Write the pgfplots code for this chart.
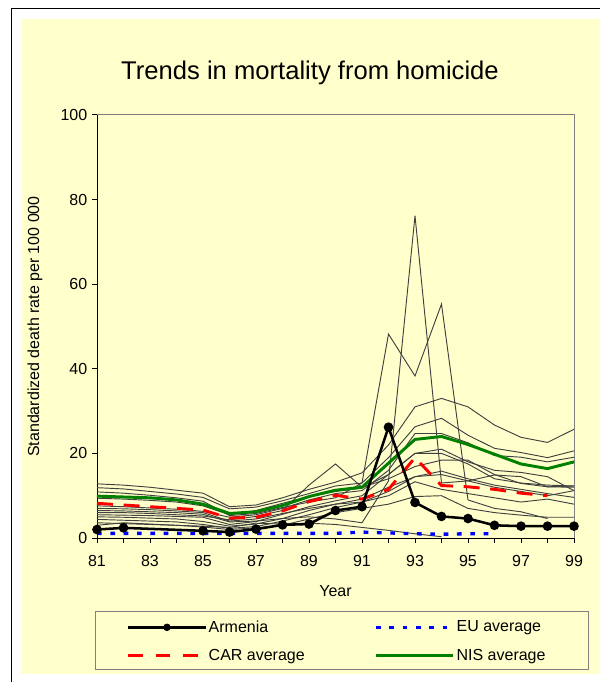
\documentclass[border=0pt]{standalone}
\usepackage{pgfplots}
\pgfplotsset{compat=1.18}
\usepackage{fontspec}
\setmainfont{Liberation Sans}
\definecolor{bgyellow}{RGB}{255,255,204}
\definecolor{nisgreen}{RGB}{0,128,0}
\definecolor{thinline}{RGB}{64,64,64}
\begin{document}
\begin{tikzpicture}
\useasboundingbox (0,0) rectangle (450pt,511.5pt);
\fill[white] (0,0) rectangle (450pt,511.5pt);
\draw[line width=1.1pt] (8.6pt,0) -- (8.6pt,505.1pt) -- (450pt,505.1pt);
\fill[bgyellow] (15.75pt,6pt) rectangle (450pt,497.25pt);
\draw[gray, line width=0.75pt] (71.25pt,9pt) rectangle (441pt,52.5pt);
\begin{axis}[
  at={(72.75pt,108pt)}, anchor=south west,
  scale only axis, width=357.75pt, height=317.25pt,
  xmin=81, xmax=99, ymin=0, ymax=100,
  clip=false,
  axis x line*=bottom, axis y line*=left,
  axis line style={black, line width=0.75pt},
  axis background/.style={draw=gray, line width=0.75pt},
  xtick={81,...,99},
  xticklabels={81,,83,,85,,87,,89,,91,,93,,95,,97,,99},
  ytick={0,20,...,100},
  tick align=outside,
  major tick length=3.75pt,
  tick style={black, line width=0.75pt},
  ticklabel style={font=\fontsize{12}{14}\selectfont},
  xticklabel style={yshift=-6pt},
  /pgf/number format/assume math mode=true,
  title={Trends in mortality from homicide},
  title style={font=\fontsize{19.2}{22}\selectfont, at={(axis description cs:0.4465,1.081)}, anchor=center},
  xlabel={Year},
  xlabel style={font=\fontsize{12}{14}\selectfont, at={(axis description cs:0.5,-0.125)}, anchor=center},
  ylabel={Standardized death rate per 100 000},
  ylabel style={font=\fontsize{12}{14}\selectfont, at={(axis description cs:-0.13,0.5)}, anchor=center},
  legend columns=2,
  legend cell align=left,
  legend style={at={(axis description cs:0.062,-0.2447)}, anchor=west, draw=none, fill=none,
    font=\fontsize{12}{14}\selectfont, row sep=9pt, inner sep=0pt,
    nodes={inner sep=1.2pt},
    /tikz/every even column/.append style={column sep=51pt}},
  legend image code/.code={\draw[mark repeat=2,mark phase=2,#1] plot coordinates {(0pt,0pt) (29pt,0pt) (58pt,0pt)};},
]
% other countries (thin lines)
\addplot[thinline, line width=0.7pt, forget plot] coordinates {(81,12.8)(82,12.5)(83,12.0)(84,11.3)(85,10.6)(86,7.4)(87,7.8)(88,9.5)(89,11.5)(90,13.2)(91,15.4)(92,22)(93,31)(94,33)(95,31)(96,26.7)(97,23.8)(98,22.6)(99,25.7)};
\addplot[thinline, line width=0.7pt, forget plot] coordinates {(81,11.9)(82,11.6)(83,11.0)(84,10.4)(85,9.6)(86,6.9)(87,7.3)(88,8.8)(89,10.5)(90,12.3)(91,13.0)(92,19)(93,26.3)(94,28.3)(95,24.3)(96,21.2)(97,20.2)(98,19.0)(99,20.6)};
\addplot[thinline, line width=0.7pt, forget plot] coordinates {(81,10.9)(82,10.6)(83,10.1)(84,9.5)(85,8.7)(86,5.3)(87,5.8)(88,7.2)(89,8.5)(90,9.5)(91,13)(92,48.2)(93,38.3)(94,55.3)(95,9.0)(96,7.0)(97,6.2)(98,4.6)};
\addplot[thinline, line width=0.7pt, forget plot] coordinates {(81,6.5)(82,6.4)(83,6.2)(84,6.0)(85,5.6)(86,3.8)(87,4.0)(88,4.6)(89,5.0)(90,4.5)(91,3.6)(92,13.5)(93,76.2)(94,13)(95,13.5)(96,14.9)(97,14.5)(98,12.1)(99,12.3)};
\addplot[thinline, line width=0.7pt, forget plot] coordinates {(81,6.0)(82,6.0)(83,5.8)(84,5.5)(85,5.2)(86,4.3)(87,5.1)(88,6.5)(89,12.5)(90,17.5)(91,12.0)(92,14)(93,16.9)(94,18.4)(95,18.4)(96,15)(97,12.9)(98,12.1)(99,12.0)};
\addplot[thinline, line width=0.7pt, forget plot] coordinates {(81,5.5)(82,5.4)(83,5.3)(84,5.1)(85,4.9)(86,3.2)(87,3.9)(88,5.6)(89,7.4)(90,8.8)(91,10)(92,15)(93,20)(94,21)(95,18)(96,16)(97,15.5)(98,14.5)(99,11.2)};
\addplot[thinline, line width=0.7pt, forget plot] coordinates {(81,5.0)(82,4.9)(83,4.7)(84,4.5)(85,3.9)(86,2.8)(87,3.3)(88,4.6)(89,6.5)(90,8.0)(91,9.2)(92,12)(93,14.5)(94,15.8)(95,14.0)(96,12.5)(97,11.5)(98,10.5)(99,9.6)};
\addplot[thinline, line width=0.7pt, forget plot] coordinates {(81,4.4)(82,4.2)(83,4.0)(84,3.8)(85,3.2)(86,2.3)(87,2.7)(88,4.0)(89,5.5)(90,7.2)(91,8.5)(92,10)(93,13.3)(94,11.5)(95,10.5)(96,9.5)(97,8.5)(98,9.2)(99,8.0)};
\addplot[thinline, line width=0.7pt, forget plot] coordinates {(81,3.6)(82,3.4)(83,3.2)(84,3.0)(85,2.8)(86,2.5)(87,3.5)(88,3.3)(89,3.5)(90,3.2)(91,2.5)(92,1.8)(93,1.0)(94,0.3)};
\addplot[thinline, line width=0.7pt, forget plot] coordinates {(81,3.0)(82,3.6)(83,3.3)(84,3.0)(85,2.6)(86,2.0)(87,2.4)(88,3.0)(89,4.5)(90,6.0)(91,7.0)(92,8)(93,9.8)(94,10)(95,7.0)(96,6.0)(97,5.4)(98,4.9)(99,4.9)};
\addplot[thinline, line width=0.7pt, forget plot] coordinates {(81,7.6)(82,7.4)(83,7.1)(84,6.8)(85,6.3)(86,4.9)(87,5.5)(88,7.0)(89,9.0)(90,10.5)(91,11.2)(92,16)(93,24.7)(94,24.7)(95,22.5)(96,19.5)(97,19.1)(98,18.0)(99,19.1)};
\addplot[thinline, line width=0.7pt, forget plot] coordinates {(81,7.0)(82,6.9)(83,6.7)(84,6.4)(85,6.0)(86,4.0)(87,4.5)(88,5.8)(89,7.0)(90,8.0)(91,8.5)(92,11)(93,14.5)(94,15.0)(95,13.5)(96,12.0)(97,11.0)(98,10.0)(99,11.2)};
\addplot[thinline, line width=0.7pt, forget plot] coordinates {(81,9.4)(82,9.2)(83,8.9)(84,8.5)(85,7.6)(86,5.5)(87,6.5)(88,8.2)(89,9.8)(90,11.0)(91,11.8)(92,15)(93,20)(94,20)(95,17.5)(96,14.0)(97,13.0)(98,12.5)(99,12.3)};
% NIS average
\addplot[nisgreen, line width=2.2pt, forget plot] coordinates {(81,9.9)(82,9.7)(83,9.5)(84,9.0)(85,8.0)(86,5.8)(87,6.2)(88,7.7)(89,9.8)(90,11.3)(91,12.0)(92,17.7)(93,23.3)(94,24.0)(95,22.1)(96,19.8)(97,17.5)(98,16.4)(99,18.0)};
% CAR average
\addplot[red, line width=2.2pt, dash pattern=on 12pt off 8pt, forget plot] coordinates {(81,8.2)(82,7.8)(83,7.4)(84,7.0)(85,6.6)(86,4.7)(87,4.9)(88,6.4)(89,8.6)(90,10.1)(91,9.2)(92,11.5)(93,19.0)(94,12.4)(95,12.1)(96,11.5)(97,10.6)(98,10.0)};
% EU average
\addplot[blue, line width=2.5pt, dash pattern=on 3.5pt off 6.5pt, forget plot] coordinates {(81,1.1)(82,1.1)(83,1.1)(84,1.1)(85,1.1)(86,1.1)(87,1.1)(88,1.1)(89,1.1)(90,1.1)(91,1.4)(92,1.2)(93,1.0)(94,0.9)(95,1.0)(96,1.0)};
% Armenia
\addplot[black, line width=1.9pt, mark=*, mark size=2.6pt, forget plot] coordinates {(81,2.0)(82,2.4)(85,1.7)(86,1.4)(87,2.1)(88,3.1)(89,3.3)(90,6.5)(91,7.4)(92,26.2)(93,8.4)(94,5.1)(95,4.6)(96,3.0)(97,2.8)(98,2.8)(99,2.8)};
\addlegendimage{black, line width=1.9pt, mark=*, mark size=1.8pt}
\addlegendentry{Armenia}
\addlegendimage{blue, line width=2.5pt, dash pattern=on 3.5pt off 6.5pt}
\addlegendentry{EU average}
\addlegendimage{red, line width=2.2pt, dash pattern=on 11pt off 9.5pt}
\addlegendentry{CAR average}
\addlegendimage{nisgreen, line width=2.2pt}
\addlegendentry{NIS average}
\end{axis}
\end{tikzpicture}
\end{document}
